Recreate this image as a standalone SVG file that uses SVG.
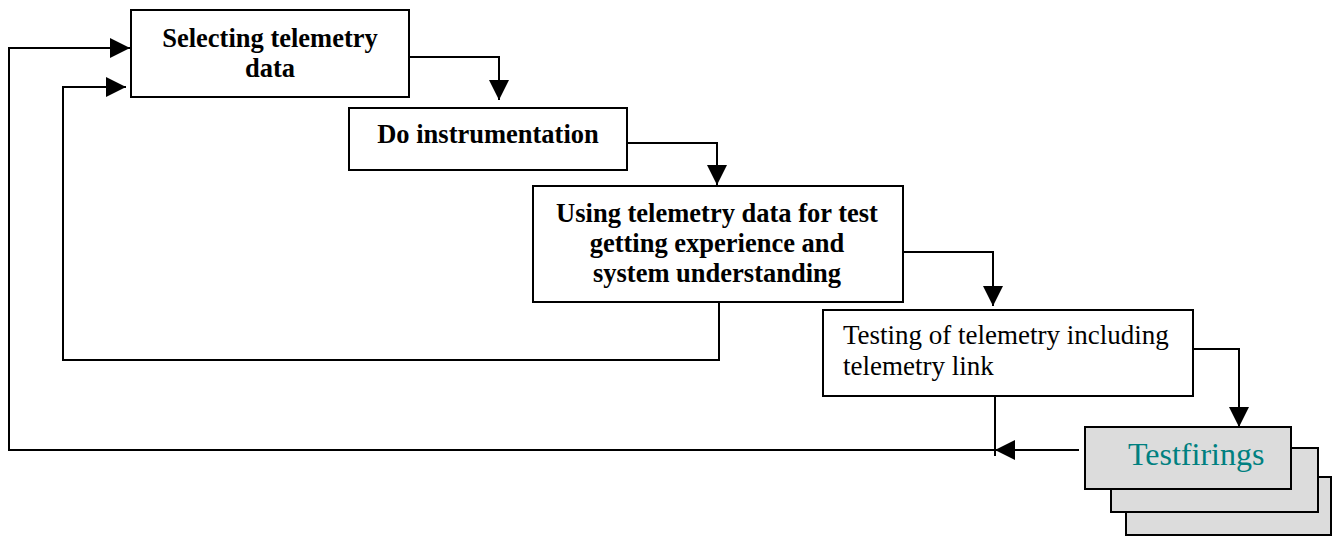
<svg xmlns="http://www.w3.org/2000/svg" width="1335" height="536" viewBox="0 0 1335 536">
<style>
.box{fill:#fff;stroke:#000;stroke-width:2}
.gbox{fill:#dcdcdc;stroke:#000;stroke-width:2}
.ln{fill:none;stroke:#000;stroke-width:2}
.b{font-family:"Liberation Serif",serif;font-weight:bold;font-size:26.5px;fill:#000;text-anchor:middle}
.r{font-family:"Liberation Serif",serif;font-size:27px;fill:#000}
.t{font-family:"Liberation Serif",serif;font-size:32px;fill:#008080}
</style>
<defs>
<marker id="ah" markerUnits="userSpaceOnUse" markerWidth="20" markerHeight="20" refX="20" refY="10" orient="auto">
<path d="M0,0 L20,10 L0,20 z" fill="#000"/>
</marker>
</defs>
<rect width="1335" height="536" fill="#fff"/>
<g id="connectors">
<path class="ln" d="M995,450 L9,450 L9,48 L130,48" marker-end="url(#ah)"/>
<path class="ln" d="M719,302 L719,360 L63,360 L63,87 L126,87" marker-end="url(#ah)"/>
<path class="ln" d="M409,57 L499,57 L499,100" marker-end="url(#ah)"/>
<path class="ln" d="M627,143 L717,143 L717,185" marker-end="url(#ah)"/>
<path class="ln" d="M903,252 L993,252 L993,306" marker-end="url(#ah)"/>
<path class="ln" d="M1193,349 L1239,349 L1239,427" marker-end="url(#ah)"/>
<path class="ln" d="M995,396 L995,456"/>
<path class="ln" d="M1079,450 L995,450" marker-end="url(#ah)"/>
</g>
<g id="node1">
<rect class="box" x="131" y="10" width="278" height="87"/>
<text class="b" x="270" y="47">Selecting telemetry</text>
<text class="b" x="270" y="77">data</text>
</g>
<g id="node2">
<rect class="box" x="349" y="108" width="278" height="62"/>
<text class="b" x="488" y="143">Do instrumentation</text>
</g>
<g id="node3">
<rect class="box" x="533" y="186" width="370" height="116"/>
<text class="b" x="717" y="222">Using telemetry data for test</text>
<text class="b" x="717" y="252">getting experience and</text>
<text class="b" x="717" y="282">system understanding</text>
</g>
<g id="node4">
<rect class="box" x="823" y="310" width="370" height="86"/>
<text class="r" x="843" y="344">Testing of telemetry including</text>
<text class="r" x="843" y="375">telemetry link</text>
</g>
<g id="node5">
<rect class="gbox" x="1126" y="477" width="205" height="58"/>
<rect class="gbox" x="1111" y="448" width="207" height="64"/>
<rect class="gbox" x="1085" y="427" width="206" height="62"/>
<text class="t" x="1128" y="465">Testfirings</text>
</g>
</svg>
